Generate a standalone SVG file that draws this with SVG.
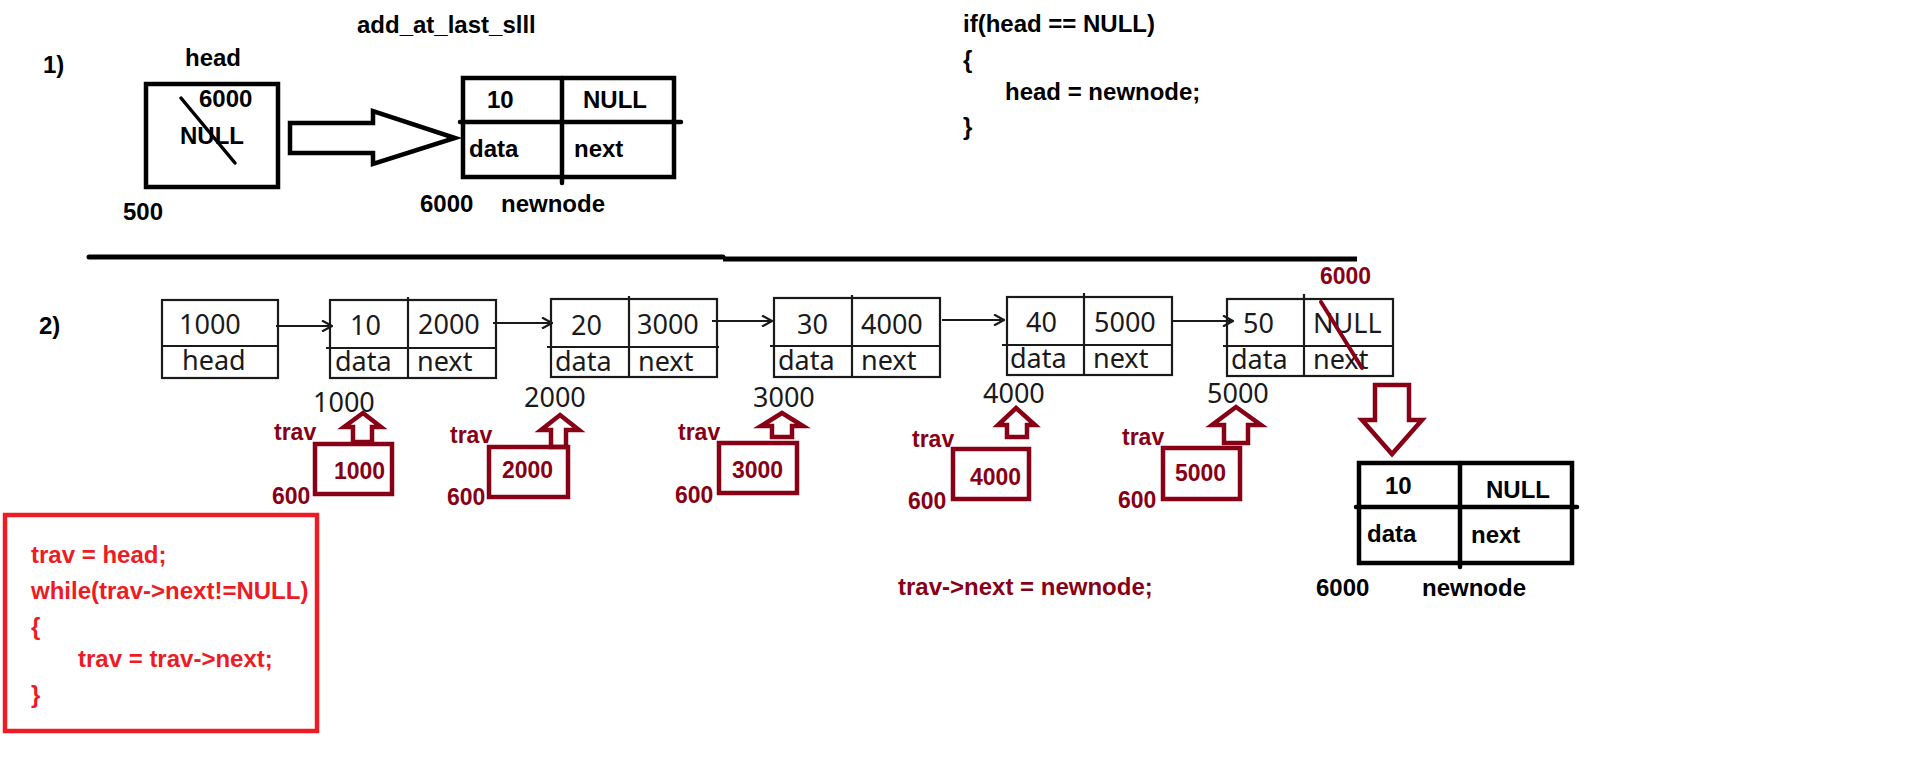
<svg xmlns="http://www.w3.org/2000/svg" width="1910" height="772" viewBox="0 0 1910 772">
<style>
.b{font-family:"Liberation Sans",Arial,sans-serif;font-weight:bold;font-size:24px;fill:#000}
.dr{font-family:"Liberation Sans",Arial,sans-serif;font-weight:bold;font-size:23px;fill:#880015}
.rd{font-family:"Liberation Sans",Arial,sans-serif;font-weight:bold;font-size:24px;fill:#ed1c24}
.n{font-family:"Noto Sans",sans-serif;font-size:27px;fill:#1a1a1a}
.thick{fill:none;stroke:#000;stroke-width:4.5}
.thin{fill:none;stroke:#1a1a1a;stroke-width:2.2}
.drs{fill:none;stroke:#880015;stroke-width:4.5}
.dra{fill:#fff;stroke:#880015;stroke-width:4.5;stroke-linejoin:miter}
.conn{fill:none;stroke:#1a1a1a;stroke-width:2.2}
</style>
<defs>
<marker id="ah" markerWidth="12" markerHeight="12" refX="11" refY="6" orient="auto" markerUnits="userSpaceOnUse">
<path d="M1,0.5 L11,6 L1,11.5" fill="none" stroke="#1a1a1a" stroke-width="2.2"/>
</marker>
</defs>
<rect width="1910" height="772" fill="#fff"/>

<!-- Section 1 -->
<text class="b" x="357" y="33">add_at_last_slll</text>
<text class="b" x="43" y="73">1)</text>

<g id="head1">
<text class="b" x="185" y="66">head</text>
<rect class="thick" x="146" y="84" width="132" height="103"/>
<text class="b" x="199" y="107">6000</text>
<text class="b" x="180" y="144">NULL</text>
<line x1="181" y1="98" x2="235" y2="163" stroke="#000" stroke-width="3.5" stroke-linecap="round"/>
<text class="b" x="123" y="220">500</text>
</g>

<g id="newnode1">
<rect class="thick" x="463" y="78" width="211" height="99"/>
<line x1="562" y1="78" x2="562" y2="183" stroke="#000" stroke-width="4.5" stroke-linecap="round"/>
<line x1="460" y1="122" x2="681" y2="122" stroke="#000" stroke-width="4.5" stroke-linecap="round"/>
<text class="b" x="487" y="108">10</text>
<text class="b" x="583" y="108">NULL</text>
<text class="b" x="469" y="157">data</text>
<text class="b" x="574" y="157">next</text>
<text class="b" x="420" y="212">6000</text>
<text class="b" x="501" y="212">newnode</text>
</g>

<g id="code1">
<text class="b" x="963" y="32">if(head == NULL)</text>
<text class="b" x="963" y="68">{</text>
<text class="b" x="1005" y="100">head = newnode;</text>
<text class="b" x="963" y="135">}</text>
</g>

<!-- divider -->
<line x1="89" y1="257" x2="723" y2="257" stroke="#000" stroke-width="5" stroke-linecap="round"/>
<line x1="723" y1="259" x2="1357" y2="259" stroke="#000" stroke-width="5"/>

<!-- Section 2 -->
<text class="b" x="39" y="334">2)</text>

<g id="headnode">
<rect class="thin" x="162" y="300" width="116" height="78"/>
<line class="thin" x1="162" y1="346" x2="278" y2="346"/>
<text class="n" x="179" y="334">1000</text>
<text class="n" x="182" y="370">head</text>
</g>

<g id="node1">
<rect class="thin" x="330" y="300" width="166" height="78"/>
<line class="thin" x1="408" y1="297" x2="408" y2="378"/>
<line class="thin" x1="326" y1="348" x2="496" y2="348"/>
<text class="n" x="350" y="335">10</text>
<text class="n" x="418" y="334">2000</text>
<text class="n" x="335" y="371">data</text>
<text class="n" x="417" y="371">next</text>
<text class="n" x="313" y="412">1000</text>
</g>

<g id="node2">
<rect class="thin" x="551" y="299" width="166" height="78"/>
<line class="thin" x1="629" y1="296" x2="629" y2="377"/>
<line class="thin" x1="547" y1="347" x2="719" y2="347"/>
<text class="n" x="571" y="335">20</text>
<text class="n" x="637" y="334">3000</text>
<text class="n" x="555" y="371">data</text>
<text class="n" x="638" y="371">next</text>
<text class="n" x="524" y="407">2000</text>
</g>

<g id="node3">
<rect class="thin" x="774" y="298" width="166" height="79"/>
<line class="thin" x1="852" y1="295" x2="852" y2="377"/>
<line class="thin" x1="770" y1="346" x2="940" y2="346"/>
<text class="n" x="797" y="334">30</text>
<text class="n" x="861" y="334">4000</text>
<text class="n" x="778" y="370">data</text>
<text class="n" x="861" y="370">next</text>
<text class="n" x="753" y="407">3000</text>
</g>

<g id="node4">
<rect class="thin" x="1007" y="297" width="165" height="78"/>
<line class="thin" x1="1084" y1="293" x2="1084" y2="375"/>
<line class="thin" x1="1002" y1="345" x2="1173" y2="345"/>
<text class="n" x="1026" y="332">40</text>
<text class="n" x="1094" y="332">5000</text>
<text class="n" x="1010" y="368">data</text>
<text class="n" x="1093" y="368">next</text>
<text class="n" x="983" y="403">4000</text>
</g>

<g id="node5">
<rect class="thin" x="1227" y="299" width="166" height="77"/>
<line class="thin" x1="1304" y1="294" x2="1304" y2="376"/>
<line class="thin" x1="1223" y1="346" x2="1393" y2="346"/>
<text class="n" x="1243" y="333">50</text>
<text class="n" x="1313" y="333">NULL</text>
<text class="n" x="1231" y="369">data</text>
<text class="n" x="1313" y="369">next</text>
<text class="n" x="1207" y="403">5000</text>
<line x1="1321" y1="302" x2="1362" y2="368" stroke="#880015" stroke-width="4" stroke-linecap="round"/>
<text class="dr" x="1320" y="284">6000</text>
</g>

<g id="connectors">
<line class="conn" x1="276" y1="326" x2="332" y2="326" marker-end="url(#ah)"/>
<line class="conn" x1="493" y1="323" x2="552" y2="323" marker-end="url(#ah)"/>
<line class="conn" x1="712" y1="321" x2="772" y2="321" marker-end="url(#ah)"/>
<line class="conn" x1="942" y1="320" x2="1004" y2="320" marker-end="url(#ah)"/>
<line class="conn" x1="1173" y1="321" x2="1233" y2="321" marker-end="url(#ah)"/>
<polygon points="290,123 373,123 373,111 455,138 373,164 373,153 290,153" fill="#fff" stroke="#000" stroke-width="4.5"/>
<polygon class="dra" points="1375,385 1409,385 1409,420 1422,420 1392,454 1362,420 1375,420"/>
</g>

<g id="trav1">
<polygon class="dra" points="363,413 381,427 372,427 372,442 353,442 353,427 344,427"/>
<text class="dr" x="274" y="440">trav</text>
<rect class="drs" x="315" y="444" width="77" height="50"/>
<text class="dr" x="334" y="479">1000</text>
<text class="dr" x="272" y="504">600</text>
</g>
<g id="trav2">
<polygon class="dra" points="560,415 579,430 566,430 566,447 551,447 551,430 541,430"/>
<text class="dr" x="450" y="443">trav</text>
<rect class="drs" x="489" y="447" width="79" height="50"/>
<text class="dr" x="502" y="478">2000</text>
<text class="dr" x="447" y="505">600</text>
</g>
<g id="trav3">
<polygon class="dra" points="782,413 803,426 792,426 792,437 772,437 772,426 761,426"/>
<text class="dr" x="678" y="440">trav</text>
<rect class="drs" x="719" y="443" width="78" height="50"/>
<text class="dr" x="732" y="478">3000</text>
<text class="dr" x="675" y="503">600</text>
</g>
<g id="trav4">
<polygon class="dra" points="1016,408 1035,425 1027,425 1027,437 1007,437 1007,425 998,425"/>
<text class="dr" x="912" y="447">trav</text>
<rect class="drs" x="953" y="449" width="76" height="50"/>
<text class="dr" x="970" y="485">4000</text>
<text class="dr" x="908" y="509">600</text>
</g>
<g id="trav5">
<polygon class="dra" points="1236,407 1261,425 1248,425 1248,443 1224,443 1224,425 1212,425"/>
<text class="dr" x="1122" y="445">trav</text>
<rect class="drs" x="1163" y="448" width="77" height="51"/>
<text class="dr" x="1175" y="481">5000</text>
<text class="dr" x="1118" y="508">600</text>
</g>

<g id="newnode2">
<rect class="thick" x="1359" y="463" width="213" height="100"/>
<line x1="1460" y1="463" x2="1460" y2="567" stroke="#000" stroke-width="4.5" stroke-linecap="round"/>
<line x1="1356" y1="507" x2="1577" y2="507" stroke="#000" stroke-width="4.5" stroke-linecap="round"/>
<text class="b" x="1385" y="494">10</text>
<text class="b" x="1486" y="498">NULL</text>
<text class="b" x="1367" y="542">data</text>
<text class="b" x="1471" y="543">next</text>
<text class="b" x="1316" y="596">6000</text>
<text class="b" x="1422" y="596">newnode</text>
</g>

<text class="dr" x="898" y="595" style="font-size:24px">trav-&gt;next = newnode;</text>

<g id="codebox">
<rect x="5" y="515" width="312" height="216" fill="none" stroke="#ed1c24" stroke-width="4.5"/>
<text class="rd" x="31" y="563">trav = head;</text>
<text class="rd" x="31" y="599">while(trav-&gt;next!=NULL)</text>
<text class="rd" x="31" y="635">{</text>
<text class="rd" x="78" y="667">trav = trav-&gt;next;</text>
<text class="rd" x="31" y="703">}</text>
</g>
</svg>
